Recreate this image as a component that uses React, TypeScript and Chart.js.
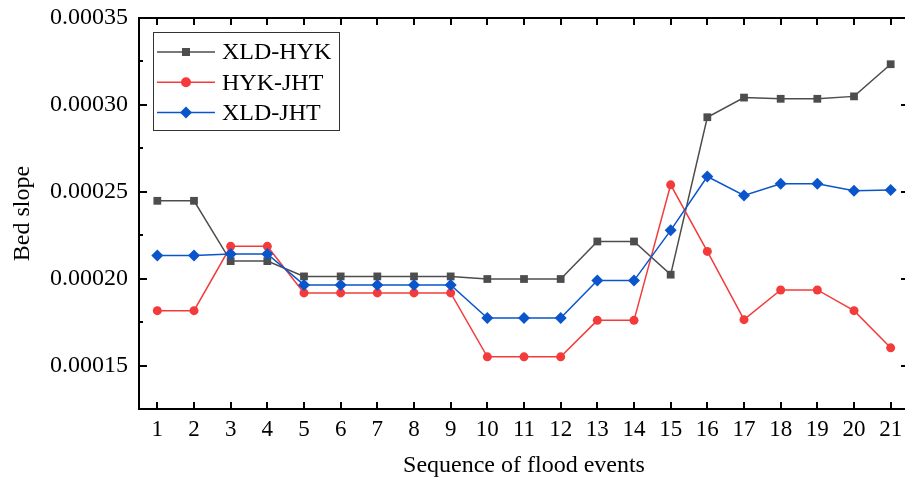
import React, { useEffect, useRef } from 'react';
import { Chart, registerables } from 'chart.js';

Chart.register(...registerables);

const categories = ['1', '2', '3', '4', '5', '6', '7', '8', '9', '10', '11', '12', '13', '14', '15', '16', '17', '18', '19', '20', '21'];

const xldHyk = [0.0002448, 0.0002448, 0.0002101, 0.0002101, 0.0002013, 0.0002013, 0.0002013, 0.0002013, 0.0002013, 0.0001998, 0.0001998, 0.0001998, 0.0002214, 0.0002214, 0.0002023, 0.0002929, 0.0003042, 0.0003035, 0.0003035, 0.0003049, 0.0003234];
const hykJht = [0.0001816, 0.0001816, 0.0002186, 0.0002186, 0.0001918, 0.0001918, 0.0001918, 0.0001918, 0.0001918, 0.000155, 0.000155, 0.000155, 0.000176, 0.000176, 0.000254, 0.0002157, 0.0001764, 0.0001935, 0.0001935, 0.0001816, 0.0001602];
const xldJht = [0.0002134, 0.0002134, 0.0002142, 0.0002142, 0.0001964, 0.0001964, 0.0001964, 0.0001964, 0.0001964, 0.0001774, 0.0001774, 0.0001774, 0.0001989, 0.0001989, 0.0002278, 0.0002588, 0.0002479, 0.0002546, 0.0002546, 0.0002506, 0.000251];

const seriesNames = ['XLD-HYK', 'HYK-JHT', 'XLD-JHT'];
const yTickValues = [0.00015, 0.0002, 0.00025, 0.0003, 0.00035];
const yMinorValues = [0.000125, 0.000175, 0.000225, 0.000275, 0.000325];
const yMin = 0.000125;
const yMax = 0.00035;

const xTitle = 'Sequence of flood events';
const yTitle = 'Bed slope';

const FONT = '"Liberation Serif", "Times New Roman", serif';
const COLORS = ['#4d4d4d', '#f43b3b', '#0a55cc'];
const STYLES = ['rect', 'circle', 'rectRot'];

function drawMarker(ctx: CanvasRenderingContext2D, style: string, x: number, y: number, color: string) {
  ctx.fillStyle = color;
  ctx.beginPath();
  if (style === 'rect') {
    ctx.rect(x - 4, y - 4, 8, 8);
  } else if (style === 'circle') {
    ctx.arc(x, y, 5, 0, Math.PI * 2);
  } else {
    ctx.moveTo(x, y - 6);
    ctx.lineTo(x + 6, y);
    ctx.lineTo(x, y + 6);
    ctx.lineTo(x - 6, y);
    ctx.closePath();
  }
  ctx.fill();
}

const framePlugin = {
  id: 'frame',
  afterDraw(chart: any) {
    const { ctx, chartArea } = chart;
    const { left, right, top, bottom } = chartArea;
    const xs = chart.scales.x;
    const ys = chart.scales.y;
    ctx.save();
    ctx.strokeStyle = '#000';
    ctx.lineWidth = 2;
    ctx.strokeRect(left, top, right - left, bottom - top);
    ctx.beginPath();
    categories.forEach((_, i) => {
      const px = Math.round(xs.getPixelForValue(i));
      ctx.moveTo(px, bottom);
      ctx.lineTo(px, bottom - 7);
      ctx.moveTo(px, top);
      ctx.lineTo(px, top + 7);
    });
    yTickValues.forEach((v) => {
      const py = Math.round(ys.getPixelForValue(v));
      ctx.moveTo(left, py);
      ctx.lineTo(left + 8, py);
      ctx.moveTo(right, py);
      ctx.lineTo(right - 8, py);
    });
    yMinorValues.forEach((v) => {
      const py = Math.round(ys.getPixelForValue(v));
      ctx.moveTo(left, py);
      ctx.lineTo(left + 4, py);
      ctx.moveTo(right, py);
      ctx.lineTo(right - 4, py);
    });
    ctx.stroke();

    // legend
    const bx = left + 14.5;
    const by = top + 14.5;
    const bw = 186;
    const bh = 98;
    ctx.fillStyle = '#fff';
    ctx.fillRect(bx, by, bw, bh);
    ctx.lineWidth = 1;
    ctx.strokeStyle = '#333';
    ctx.strokeRect(bx, by, bw, bh);
    ctx.font = `24px ${FONT}`;
    ctx.textBaseline = 'middle';
    ctx.textAlign = 'left';
    seriesNames.forEach((name, i) => {
      const ry = top + 34 + i * 30.3;
      ctx.strokeStyle = COLORS[i];
      ctx.lineWidth = 1.5;
      ctx.beginPath();
      ctx.moveTo(left + 18, ry);
      ctx.lineTo(left + 76, ry);
      ctx.stroke();
      drawMarker(ctx, STYLES[i], left + 47, ry, COLORS[i]);
      ctx.fillStyle = '#000';
      ctx.fillText(name, left + 83, ry + 1);
    });
    ctx.restore();
  },
};

export default function App() {
  const canvasRef = useRef<HTMLCanvasElement | null>(null);

  useEffect(() => {
    const canvas = canvasRef.current;
    if (!canvas) return;
    const seriesData = [xldHyk, hykJht, xldJht];
    const orders = [2, 1, 0];
    const radii = [5.5, 4.5, 6];
    const chart = new Chart(canvas, {
      type: 'line',
      data: {
        labels: categories,
        datasets: seriesNames.map((name, i) => ({
          label: name,
          data: seriesData[i],
          borderColor: COLORS[i],
          backgroundColor: COLORS[i],
          borderWidth: 1.5,
          pointStyle: STYLES[i] as any,
          pointRadius: radii[i],
          pointBorderWidth: 0,
          pointBackgroundColor: COLORS[i],
          tension: 0,
          order: orders[i],
          clip: false as any,
        })),
      },
      options: {
        animation: false,
        responsive: false,
        devicePixelRatio: 1,
        layout: { padding: { left: 0, right: 6, top: 18, bottom: 0 } },
        plugins: {
          legend: { display: false },
          tooltip: { enabled: false },
        },
        scales: {
          x: {
            type: 'category',
            offset: true,
            grid: { display: false, drawTicks: false },
            border: { display: false },
            ticks: {
              color: '#000',
              font: { family: FONT, size: 23 },
              padding: 7,
              maxRotation: 0,
              autoSkip: false,
            },
            title: {
              display: true,
              text: xTitle,
              color: '#000',
              font: { family: FONT, size: 24 },
              padding: { top: 0, bottom: 1 },
            },
            afterFit: (scale: any) => {
              scale.height = 72;
              scale.paddingLeft = 0;
              scale.paddingRight = 0;
              scale.paddingTop = 0;
              scale.paddingBottom = 0;
            },
          },
          y: {
            type: 'linear',
            min: yMin,
            max: yMax,
            grid: { display: false, drawTicks: false },
            border: { display: false },
            ticks: {
              color: '#000',
              font: { family: FONT, size: 24 },
              padding: 11,
              callback: (v: any) => Number(v).toFixed(5),
            },
            afterBuildTicks: (scale: any) => {
              scale.ticks = yTickValues.map((v) => ({ value: v }));
            },
            title: {
              display: true,
              text: yTitle,
              color: '#000',
              font: { family: FONT, size: 24 },
              padding: { top: 8, bottom: 0 },
            },
            afterFit: (scale: any) => {
              scale.width = 139;
              scale.paddingTop = 0;
              scale.paddingBottom = 0;
              scale.paddingLeft = 0;
              scale.paddingRight = 0;
            },
          },
        },
      },
      plugins: [framePlugin],
    });
    return () => chart.destroy();
  }, []);

  return (
    <div style={{ position: 'fixed', left: 0, top: 0, width: 905, height: 481, overflow: 'hidden', background: '#fff' }}>
      <canvas ref={canvasRef} width={915} height={481} style={{ width: 915, height: 481, display: 'block' }} />
    </div>
  );
}
